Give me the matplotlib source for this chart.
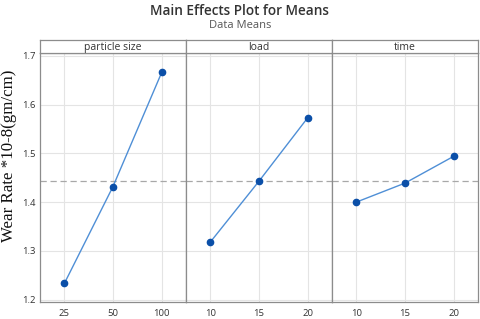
import numpy as np
import matplotlib
matplotlib.use('Agg')
import matplotlib.pyplot as plt

plt.rcParams['font.family'] = ['Open Sans', 'DejaVu Sans']

# data
factors = ['particle size', 'load', 'time']
levels = [['25', '50', '100'], ['10', '15', '20'], ['10', '15', '20']]
wear_particle = [1.233, 1.432, 1.666]
wear_load = [1.318, 1.443, 1.573]
wear_time = [1.400, 1.439, 1.494]
means = [wear_particle, wear_load, wear_time]
grand_mean = 1.444
yticks = [1.2, 1.3, 1.4, 1.5, 1.6, 1.7]

fig = plt.figure(figsize=(4.8, 3.19), dpi=100)
left, right = 40/480, 478/480
bot, top = 1 - 302/319, 1 - 53/319
strip_h = 13/319
w = (right - left) / 3

edge = '#8c8c8c'
grid = '#e4e4e4'
line_c = '#4f8fd6'
mark_c = '#0b4fa8'

for i in range(3):
    ax = fig.add_axes([left + i*w, bot, w, top - bot])
    sx = fig.add_axes([left + i*w, top, w, strip_h])
    x = np.arange(len(levels[i]))
    ax.axhline(grand_mean, color='#a8a8a8', ls=(0, (5, 3)), lw=0.9, zorder=1)
    ax.plot(x, means[i], color=line_c, lw=1.0, zorder=2)
    ax.plot(x, means[i], 'o', color=mark_c, ms=4.5, zorder=3)
    ax.set_xlim(-0.5, 2.5)
    ax.set_ylim(1.195, 1.706)
    ax.set_xticks(x)
    ax.set_xticklabels(levels[i])
    ax.set_yticks(yticks)
    ax.grid(True, color=grid, lw=0.8)
    ax.set_axisbelow(True)
    ax.tick_params(length=0, labelsize=6.8, labelcolor='#333333', pad=5)
    for s in ax.spines.values():
        s.set_color(edge)
        s.set_linewidth(0.9)
    if i > 0:
        ax.tick_params(labelleft=False)
    else:
        ax.set_yticklabels([f'{v:.1f}' for v in yticks])
        ax.tick_params(axis='y', pad=3)
    sx.set_xticks([]); sx.set_yticks([])
    for s in sx.spines.values():
        s.set_color(edge)
        s.set_linewidth(0.9)
    sx.text(0.5, 0.42, factors[i], ha='center', va='center', fontsize=7.5,
            color='#333333', transform=sx.transAxes)

fig.text(0.5, 1 - 11/319, 'Main Effects Plot for Means', ha='center', va='center',
         fontsize=9.8, color='#333333', fontweight='semibold')
fig.text(0.5, 1 - 25/319, 'Data Means', ha='center', va='center',
         fontsize=8, color='#555555')
fig.text(9/480, 1 - 156/319, 'Wear Rate *10-8(gm/cm)', rotation=90, ha='center',
         va='center', fontsize=12.2, family='Liberation Serif', color='#111111')

fig.savefig('out.png', dpi=100)
